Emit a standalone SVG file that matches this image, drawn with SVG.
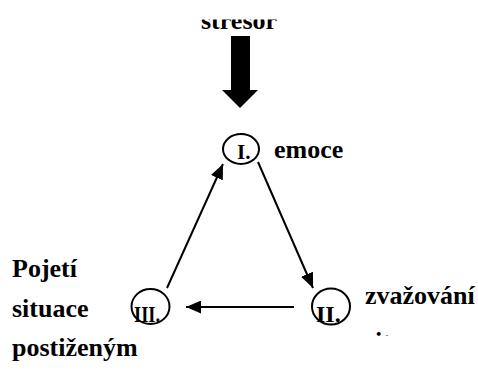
<svg xmlns="http://www.w3.org/2000/svg" width="478" height="373" viewBox="0 0 478 373">
<defs>
<style>
.t{font-family:"Liberation Serif","Times New Roman",serif;font-weight:bold;font-size:26px;fill:#000}
.n{font-family:"Liberation Serif","Times New Roman",serif;font-weight:bold;font-size:24px;fill:#000}
.c{fill:none;stroke:#000;stroke-width:2}
.l{fill:none;stroke:#000;stroke-width:2}
</style>
<marker id="ah" viewBox="0 0 15 13" refX="15" refY="6.5" markerWidth="15" markerHeight="13" markerUnits="userSpaceOnUse" orient="auto">
<path d="M0,0 L15,6.5 L0,13 Z" fill="#000"/>
</marker>
<clipPath id="clipTop"><rect x="0" y="19.5" width="478" height="40"/></clipPath>
<clipPath id="clipRight"><rect x="355" y="280" width="123" height="56"/></clipPath>
</defs>
<rect width="478" height="373" fill="#fff"/>
<g id="stresor">
<text class="t" x="201" y="29" clip-path="url(#clipTop)">stresor</text>
<polygon points="231,36 250,36 250,90 258,90 240,108 222,90 231,90" fill="#000"/>
</g>
<g id="node-I">
<ellipse class="c" cx="241" cy="149" rx="18" ry="15"/>
<text class="n" x="237" y="159" style="font-size:21px">I.</text>
<text class="t" x="274" y="158">emoce</text>
</g>
<g id="node-II">
<ellipse class="c" cx="331" cy="306.5" rx="19" ry="18"/>
<text class="n" x="316" y="322">II.</text>
<text class="t" clip-path="url(#clipRight)"><tspan x="365" y="304">zvažování</tspan><tspan x="365" y="350">situace</tspan></text>
</g>
<g id="node-III">
<ellipse class="c" cx="150.5" cy="306.5" rx="19" ry="17.5"/>
<text class="n" x="134" y="322" textLength="26" lengthAdjust="spacingAndGlyphs">III.</text>
<text class="t" x="12" y="277">Pojetí</text>
<text class="t" x="12" y="317">situace</text>
<text class="t" x="12" y="356">postiženým</text>
</g>
<g id="connectors">
<line class="l" x1="167" y1="288" x2="223" y2="164" marker-end="url(#ah)"/>
<line class="l" x1="258" y1="162" x2="313" y2="288" marker-end="url(#ah)"/>
<line class="l" x1="294" y1="307" x2="186" y2="307" marker-end="url(#ah)"/>
</g>
</svg>
